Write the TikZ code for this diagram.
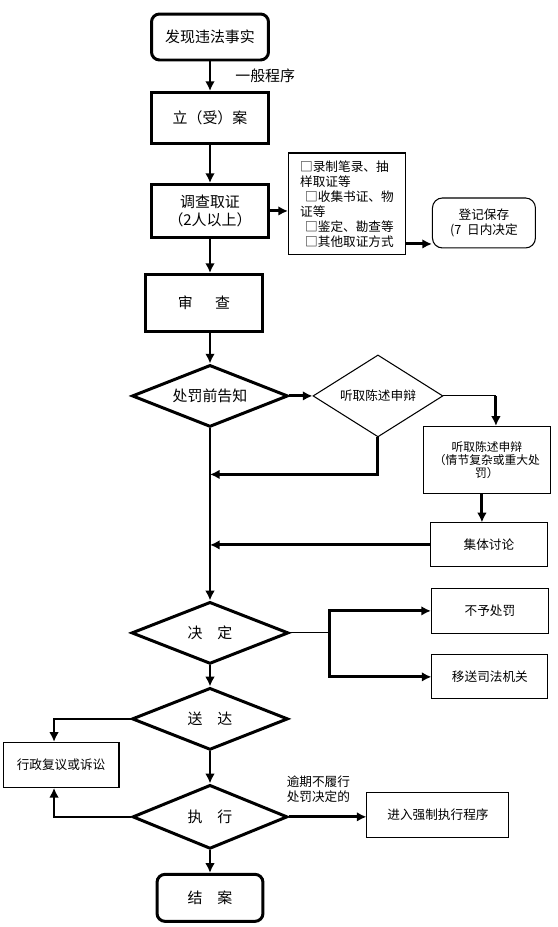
\documentclass[tikz,border=0pt]{standalone}
\usepackage{fontspec}
\setmainfont{Noto Sans CJK SC}
\usetikzlibrary{arrows.meta, calc, positioning, shapes.geometric}

\begin{document}
\begin{tikzpicture}[x=0.02cm, y=-0.02cm, >={Latex[length=5.5pt,width=5.5pt]},
    line/.style={draw=black, line width=1.7pt},
    midline/.style={draw=black, line width=1.1pt},
    thinline/.style={draw=black, line width=0.6pt},
    border/.style={draw=black, line width=1.7pt},
    bigfont/.style={font=\fontsize{8.5}{10.5}\selectfont},
    smallfont/.style={font=\fontsize{7.2}{8.6}\selectfont}]
    % Define styles for blocks, decisions and side notes
    \tikzstyle{block} = [rectangle, minimum width=2.36cm, minimum height=1.02cm, border, bigfont, align=center]
    \tikzstyle{terminal} = [block, rounded corners=0.16cm]
    \tikzstyle{decision} = [diamond, aspect=2.5, minimum width=3.12cm, minimum height=1.24cm, inner sep=0pt, border, bigfont]
    \tikzstyle{note} = [rectangle, minimum width=2.34cm, minimum height=0.9cm, thinline, smallfont, align=center]

    \useasboundingbox (0,0) rectangle (558,927);

    % Main column
    \node [terminal, minimum width=2.34cm, minimum height=0.92cm] (discover) at (210,37) {发现违法事实};
    \node [block, below of=discover, node distance=1.62cm] (filing) {立（受）案};
    \node [block, below of=filing, node distance=1.86cm, minimum height=1.06cm] (investigate) {调查取证\\（2人以上）};
    \node [block, below of=investigate, node distance=1.84cm, xshift=-0.12cm, minimum width=2.34cm, minimum height=1.14cm] (review) {审\hspace{1.5em}查};
    \node [decision, below of=investigate, node distance=3.7cm] (notice) {处罚前告知};
    \node [decision, below of=notice, node distance=4.74cm, minimum width=3.14cm] (decision) {决\quad 定};
    \node [decision, below of=decision, node distance=1.72cm] (deliver) {送\quad 达};
    \node [decision, below of=deliver, node distance=1.96cm, minimum width=3.1cm, minimum height=1.28cm] (execute) {执\quad 行};
    \node [terminal, below of=execute, node distance=1.62cm, minimum width=2.12cm, minimum height=0.94cm] (close) {结\quad 案};

    % Side nodes
    \node [note, right of=investigate, node distance=2.74cm, yshift=0.14cm, minimum height=2.04cm, align=left] (evidence) {□录制笔录、抽\\样取证等\\\hspace{0.4em}□收集书证、物\\证等\\\hspace{0.4em}□鉴定、勘查等\\\hspace{0.4em}□其他取证方式};
    \node [note, right of=evidence, node distance=2.74cm, yshift=-0.38cm, minimum width=2.06cm, minimum height=1.0cm, rounded corners=0.2cm] (register) {登记保存\\(7\ \ 日内决定};
    \node [decision, right of=notice, node distance=3.36cm, minimum width=2.6cm, minimum height=1.64cm, thinline, smallfont] (hearing) {听取陈述申辩};
    \node [note, right of=hearing, node distance=2.18cm, yshift=-1.28cm, minimum width=2.54cm, minimum height=1.34cm, font=\fontsize{6.7}{7.4}\selectfont] (hearingbox) {听取陈述申辩\\（情节复杂或重大处\\罚）};
    \node [note, below of=hearingbox, node distance=1.7cm, xshift=0.04cm, minimum height=0.88cm] (discussion) {集体讨论};
    \node [note, right of=decision, node distance=5.6cm, yshift=0.44cm] (nopenalty) {不予处罚};
    \node [note, right of=decision, node distance=5.6cm, yshift=-0.88cm, minimum width=2.32cm, minimum height=0.88cm] (transfer) {移送司法机关};
    \node [note, left of=deliver, node distance=2.98cm, yshift=-0.92cm, minimum width=2.32cm] (appeal) {行政复议或诉讼};
    \node [note, right of=execute, node distance=4.56cm, yshift=0.04cm, minimum width=2.84cm] (enforce) {进入强制执行程序};

    % Draw edges
    \draw[line,->] (discover) -- node[right, xshift=0.36cm, bigfont] {一般程序} (filing);
    \draw[line,->] (filing) -- (investigate);
    \draw[line,->] (investigate.east) -- (investigate.east -| evidence.west);
    \draw[line,->] ([yshift=-0.8cm]evidence.east) -- ([yshift=-0.8cm]evidence.east -| register.west);
    \draw[line,->] (investigate.south) -- (investigate.south |- review.north);
    \draw[line,->] (notice.north |- review.south) -- (notice.north);
    \draw[line,->] (notice.east) -- (hearing.west);
    \draw[line,->] (notice.south) -- (decision.north);
    \draw[line,->] (decision.south) -- (deliver.north);
    \draw[line,->] (deliver.south) -- (execute.north);
    \draw[line,->] (execute.south) -- (close.north);

    % Hearing branch back to the main line
    \coordinate (hearingturn) at ($(hearing.east -| hearingbox.north)+(9,0)$);
    \coordinate (hearingjoin) at ($(notice.south)+(0,46)$);
    \draw[thinline] (hearing.east) -- (hearingturn);
    \draw[line,->] (hearingturn) -- (hearingturn |- hearingbox.north);
    \draw[line,->] (hearing.south) |- (hearingjoin);
    \draw[line,->] ([xshift=-0.1cm]hearingbox.south) -- ([xshift=-0.1cm]hearingbox.south |- discussion.north);
    \draw[line,->] (discussion.west) -- (discussion.west -| notice.south);

    % Decision outcomes
    \coordinate (branch) at ($(decision.east)+(40,0)$);
    \draw[thinline] (decision.east) -- (branch);
    \draw[line,->] (branch) |- (nopenalty.west);
    \draw[line,->] (branch) |- (transfer.west);

    % Appeal loop and enforcement
    \draw[midline,->] (deliver.west) -| ([xshift=-0.14cm]appeal.north);
    \draw[midline,->] (execute.west) -| ([xshift=-0.14cm]appeal.south);
    \draw[line,->] (execute.east) -- node[above=4pt, pos=0.38, align=left, smallfont] {逾期不履行\\处罚决定的} (execute.east -| enforce.west);
\end{tikzpicture}
\end{document}
